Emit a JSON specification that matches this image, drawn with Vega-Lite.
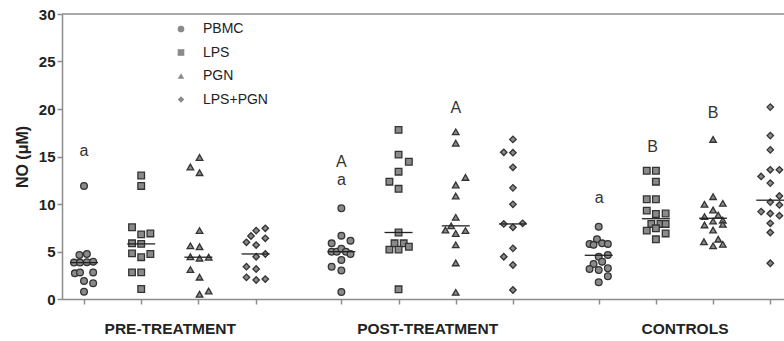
{
  "$schema": "https://vega.github.io/schema/vega-lite/v6.json",
  "width": 722,
  "height": 285,
  "autosize": {"type": "none"},
  "padding": {"left": 62, "top": 14, "right": 0, "bottom": 42},
  "background": "white",
  "config": {"view": {"stroke": null}, "font": "Liberation Sans"},
  "datasets": {
    "pts": [
      {"s":"PBMC","x":1,"y":11.9},{"s":"PBMC","x":0.92,"y":4.63},{"s":"PBMC","x":1.05,"y":4.74},{"s":"PBMC","x":0.825,"y":3.83},{"s":"PBMC","x":0.93,"y":3.83},{"s":"PBMC","x":1.05,"y":3.88},{"s":"PBMC","x":1.16,"y":3.93},{"s":"PBMC","x":0.84,"y":2.7},{"s":"PBMC","x":0.93,"y":2.8},{"s":"PBMC","x":1.16,"y":2.8},{"s":"PBMC","x":1,"y":1.9},{"s":"PBMC","x":1.16,"y":1.65},{"s":"PBMC","x":1,"y":0.77},
      {"s":"LPS","x":2,"y":13.0},{"s":"LPS","x":2,"y":11.9},{"s":"LPS","x":1.84,"y":7.55},{"s":"LPS","x":2,"y":6.8},{"s":"LPS","x":2.16,"y":6.9},{"s":"LPS","x":1.84,"y":5.86},{"s":"LPS","x":2,"y":5.8},{"s":"LPS","x":1.84,"y":4.8},{"s":"LPS","x":2,"y":4.4},{"s":"LPS","x":2.16,"y":4.74},{"s":"LPS","x":1.84,"y":2.8},{"s":"LPS","x":2,"y":2.8},{"s":"LPS","x":2,"y":1.05},
      {"s":"PGN","x":3.02,"y":14.9},{"s":"PGN","x":2.86,"y":13.9},{"s":"PGN","x":3.02,"y":13.3},{"s":"PGN","x":3.02,"y":7.2},{"s":"PGN","x":2.86,"y":5.6},{"s":"PGN","x":3.02,"y":5.5},{"s":"PGN","x":2.86,"y":4.45},{"s":"PGN","x":3.02,"y":4.3},{"s":"PGN","x":3.18,"y":4.4},{"s":"PGN","x":2.86,"y":3.1},{"s":"PGN","x":3.02,"y":2.3},{"s":"PGN","x":3.02,"y":0.5},{"s":"PGN","x":3.18,"y":0.84},
      {"s":"LPS+PGN","x":4.17,"y":7.44},{"s":"LPS+PGN","x":4.01,"y":7.2},{"s":"LPS+PGN","x":3.92,"y":6.63},{"s":"LPS+PGN","x":3.84,"y":5.97},{"s":"LPS+PGN","x":4.01,"y":5.68},{"s":"LPS+PGN","x":4.17,"y":6.39},{"s":"LPS+PGN","x":4.01,"y":4.45},{"s":"LPS+PGN","x":4.17,"y":4.74},{"s":"LPS+PGN","x":3.84,"y":3.4},{"s":"LPS+PGN","x":4.01,"y":3.16},{"s":"LPS+PGN","x":3.84,"y":2.28},{"s":"LPS+PGN","x":4.01,"y":2.0},{"s":"LPS+PGN","x":4.17,"y":2.1},
      {"s":"PBMC","x":5.5,"y":9.55},{"s":"PBMC","x":5.5,"y":6.67},{"s":"PBMC","x":5.66,"y":6.14},{"s":"PBMC","x":5.33,"y":5.86},{"s":"PBMC","x":5.33,"y":4.98},{"s":"PBMC","x":5.42,"y":4.98},{"s":"PBMC","x":5.5,"y":5.3},{"s":"PBMC","x":5.58,"y":4.98},{"s":"PBMC","x":5.66,"y":4.74},{"s":"PBMC","x":5.5,"y":4.1},{"s":"PBMC","x":5.33,"y":3.4},{"s":"PBMC","x":5.5,"y":3.0},{"s":"PBMC","x":5.5,"y":0.74},
      {"s":"LPS","x":6.5,"y":17.8},{"s":"LPS","x":6.5,"y":15.2},{"s":"LPS","x":6.68,"y":14.45},{"s":"LPS","x":6.5,"y":13.4},{"s":"LPS","x":6.34,"y":12.35},{"s":"LPS","x":6.5,"y":11.6},{"s":"LPS","x":6.5,"y":7.0},{"s":"LPS","x":6.43,"y":5.86},{"s":"LPS","x":6.59,"y":5.86},{"s":"LPS","x":6.34,"y":5.2},{"s":"LPS","x":6.5,"y":5.2},{"s":"LPS","x":6.68,"y":5.5},{"s":"LPS","x":6.5,"y":1.02},
      {"s":"PGN","x":7.5,"y":17.6},{"s":"PGN","x":7.5,"y":16.4},{"s":"PGN","x":7.67,"y":12.8},{"s":"PGN","x":7.5,"y":12.0},{"s":"PGN","x":7.5,"y":10.84},{"s":"PGN","x":7.5,"y":8.6},{"s":"PGN","x":7.42,"y":7.7},{"s":"PGN","x":7.32,"y":7.26},{"s":"PGN","x":7.5,"y":6.9},{"s":"PGN","x":7.67,"y":7.2},{"s":"PGN","x":7.5,"y":5.7},{"s":"PGN","x":7.5,"y":3.8},{"s":"PGN","x":7.5,"y":0.7},
      {"s":"LPS+PGN","x":8.5,"y":16.8},{"s":"LPS+PGN","x":8.34,"y":15.44},{"s":"LPS+PGN","x":8.5,"y":15.4},{"s":"LPS+PGN","x":8.5,"y":13.86},{"s":"LPS+PGN","x":8.5,"y":11.7},{"s":"LPS+PGN","x":8.5,"y":9.97},{"s":"LPS+PGN","x":8.34,"y":7.9},{"s":"LPS+PGN","x":8.5,"y":7.55},{"s":"LPS+PGN","x":8.67,"y":7.97},{"s":"LPS+PGN","x":8.5,"y":5.33},{"s":"LPS+PGN","x":8.34,"y":4.45},{"s":"LPS+PGN","x":8.5,"y":3.58},{"s":"LPS+PGN","x":8.5,"y":0.95},
      {"s":"PBMC","x":10,"y":7.6},{"s":"PBMC","x":9.97,"y":6.3},{"s":"PBMC","x":9.84,"y":5.8},{"s":"PBMC","x":9.91,"y":5.7},{"s":"PBMC","x":10.06,"y":5.86},{"s":"PBMC","x":10.16,"y":5.8},{"s":"PBMC","x":10,"y":4.45},{"s":"PBMC","x":10.16,"y":4.63},{"s":"PBMC","x":9.91,"y":3.68},{"s":"PBMC","x":10.06,"y":3.93},{"s":"PBMC","x":9.84,"y":3.16},{"s":"PBMC","x":10,"y":3.05},{"s":"PBMC","x":10.16,"y":3.23},{"s":"PBMC","x":10.16,"y":2.4},{"s":"PBMC","x":10,"y":1.76},
      {"s":"LPS","x":10.84,"y":13.5},{"s":"LPS","x":11,"y":13.5},{"s":"LPS","x":11,"y":12.35},{"s":"LPS","x":10.84,"y":10.5},{"s":"LPS","x":11,"y":10.5},{"s":"LPS","x":10.84,"y":9.3},{"s":"LPS","x":11,"y":8.95},{"s":"LPS","x":11.17,"y":9.0},{"s":"LPS","x":10.92,"y":7.9},{"s":"LPS","x":11.08,"y":7.9},{"s":"LPS","x":10.84,"y":7.2},{"s":"LPS","x":11,"y":7.44},{"s":"LPS","x":11.17,"y":7.9},{"s":"LPS","x":11.17,"y":6.9},{"s":"LPS","x":11,"y":6.28},
      {"s":"PGN","x":12,"y":16.8},{"s":"PGN","x":12,"y":10.77},{"s":"PGN","x":11.85,"y":9.97},{"s":"PGN","x":12.17,"y":10.07},{"s":"PGN","x":12,"y":9.37},{"s":"PGN","x":12.09,"y":8.84},{"s":"PGN","x":11.85,"y":8.67},{"s":"PGN","x":12,"y":8.2},{"s":"PGN","x":12.17,"y":8.3},{"s":"PGN","x":12.17,"y":7.86},{"s":"PGN","x":11.85,"y":7.8},{"s":"PGN","x":12,"y":7.26},{"s":"PGN","x":11.84,"y":6.03},{"s":"PGN","x":12.09,"y":6.3},{"s":"PGN","x":12,"y":5.6},{"s":"PGN","x":12.17,"y":5.75},
      {"s":"LPS+PGN","x":13,"y":20.2},{"s":"LPS+PGN","x":13,"y":17.2},{"s":"LPS+PGN","x":13,"y":15.7},{"s":"LPS+PGN","x":13,"y":13.6},{"s":"LPS+PGN","x":13.16,"y":13.6},{"s":"LPS+PGN","x":12.84,"y":12.9},{"s":"LPS+PGN","x":13,"y":12.2},{"s":"LPS+PGN","x":13.16,"y":10.84},{"s":"LPS+PGN","x":13,"y":10.2},{"s":"LPS+PGN","x":13.16,"y":9.9},{"s":"LPS+PGN","x":12.84,"y":9.2},{"s":"LPS+PGN","x":13,"y":9.0},{"s":"LPS+PGN","x":13.16,"y":8.77},{"s":"LPS+PGN","x":13,"y":7.97},{"s":"LPS+PGN","x":13,"y":7.0},{"s":"LPS+PGN","x":13,"y":3.76}
    ],
    "medians": [
      {"x":1,"y":3.83},{"x":2,"y":5.8},{"x":3,"y":4.4},{"x":4,"y":4.74},
      {"x":5.5,"y":4.98},{"x":6.5,"y":7.0},{"x":7.5,"y":7.7},{"x":8.5,"y":7.9},
      {"x":10,"y":4.6},{"x":11,"y":8.45},{"x":12,"y":8.5},{"x":13,"y":10.4}
    ],
    "letters": [
      {"x":1,"y":15.55,"t":"a"},
      {"x":5.5,"y":14.45,"t":"A"},
      {"x":5.5,"y":12.5,"t":"a"},
      {"x":7.5,"y":20.07,"t":"A"},
      {"x":10.01,"y":10.65,"t":"a"},
      {"x":10.94,"y":16.03,"t":"B"},
      {"x":12.0,"y":19.55,"t":"B"}
    ]
  },
  "layer": [
    {
      "data": {"name": "pts"},
      "mark": {"type": "point", "filled": true, "fill": "#8a8a8a", "stroke": "#333333", "strokeWidth": 1.3, "opacity": 1},
      "encoding": {
        "x": {
          "field": "x", "type": "quantitative",
          "scale": {"domain": [0.615, 13.24], "nice": false, "zero": false},
          "axis": {
            "title": null, "grid": false,
            "values": [1, 2, 3, 4, 5.5, 6.5, 7.5, 8.5, 10, 11, 12, 13, 2.5, 7, 11.5],
            "labelExpr": "datum.value == 2.5 ? 'PRE-TREATMENT' : datum.value == 7 ? 'POST-TREATMENT' : datum.value == 11.5 ? 'CONTROLS' : ''",
            "tickColor": {"condition": {"test": "datum.value == 2.5 || datum.value == 7 || datum.value == 11.5", "value": "transparent"}, "value": "#8c8c8c"},
            "tickSize": 5, "tickWidth": 1.5,
            "domainColor": "#8c8c8c", "domainWidth": 1.5,
            "labelFont": "Liberation Sans", "labelFontSize": 15.5, "labelFontWeight": "bold", "labelColor": "#222222",
            "labelPadding": 17, "labelOverlap": false, "labelFlush": false, "labelBound": false
          }
        },
        "y": {
          "field": "y", "type": "quantitative",
          "scale": {"domain": [0, 30], "nice": false, "zero": true},
          "axis": {
            "title": "NO (μM)", "grid": false,
            "values": [0, 5, 10, 15, 20, 25, 30],
            "tickSize": 5, "tickWidth": 1.5, "tickColor": "#8c8c8c",
            "domainColor": "#8c8c8c", "domainWidth": 1.5,
            "labelFont": "Liberation Sans", "labelFontSize": 15, "labelFontWeight": "bold", "labelColor": "#222222",
            "labelPadding": 2, "labelFlush": false,
            "titleFont": "Liberation Sans", "titleFontSize": 16, "titleFontWeight": "bold", "titleColor": "#222222", "titlePadding": 8
          }
        },
        "shape": {
          "field": "s", "type": "nominal",
          "scale": {"domain": ["PBMC", "LPS", "PGN", "LPS+PGN"], "range": ["circle", "square", "triangle-up", "diamond"]},
          "legend": {
            "title": null, "orient": "none", "legendX": 112, "legendY": 8, "padding": 0,
            "labelFont": "Liberation Sans", "labelFontSize": 14, "labelColor": "#222222", "labelOffset": 15,
            "symbolFillColor": "#8a8a8a", "symbolStrokeColor": "#333333", "symbolStrokeWidth": 1.3, "symbolOpacity": 1,
            "rowPadding": 9.5,
            "encode": {"symbols": {"update": {"stroke": {"value": "#333333"}, "strokeWidth": {"value": 1.3}, "fill": {"value": "#8a8a8a"}}}}
          }
        },
        "size": {
          "field": "s", "type": "nominal",
          "scale": {"domain": ["PBMC", "LPS", "PGN", "LPS+PGN"], "range": [45, 42, 70, 55]},
          "legend": {
            "title": null, "orient": "none", "legendX": 112, "legendY": 8, "padding": 0,
            "labelFont": "Liberation Sans", "labelFontSize": 14, "labelColor": "#222222", "labelOffset": 15,
            "symbolFillColor": "#8a8a8a", "symbolStrokeColor": "#333333", "symbolStrokeWidth": 1.3, "symbolOpacity": 1,
            "rowPadding": 9.5,
            "encode": {"symbols": {"update": {"stroke": {"value": "#333333"}, "strokeWidth": {"value": 1.3}, "fill": {"value": "#8a8a8a"}}}}
          }
        }
      }
    },
    {
      "data": {"name": "medians"},
      "mark": {"type": "tick", "orient": "horizontal", "size": 28, "thickness": 1.3, "color": "#222222", "opacity": 1},
      "encoding": {
        "x": {"field": "x", "type": "quantitative"},
        "y": {"field": "y", "type": "quantitative"}
      }
    },
    {
      "data": {"name": "letters"},
      "mark": {"type": "text", "font": "Liberation Sans", "fontSize": 16, "color": "#333333", "baseline": "middle", "align": "center"},
      "encoding": {
        "x": {"field": "x", "type": "quantitative"},
        "y": {"field": "y", "type": "quantitative"},
        "text": {"field": "t"}
      }
    },
    {
      "data": {"values": [{}]},
      "mark": {"type": "rule", "color": "#8c8c8c", "strokeWidth": 1.5},
      "encoding": {"y": {"datum": 30}}
    }
  ]
}
